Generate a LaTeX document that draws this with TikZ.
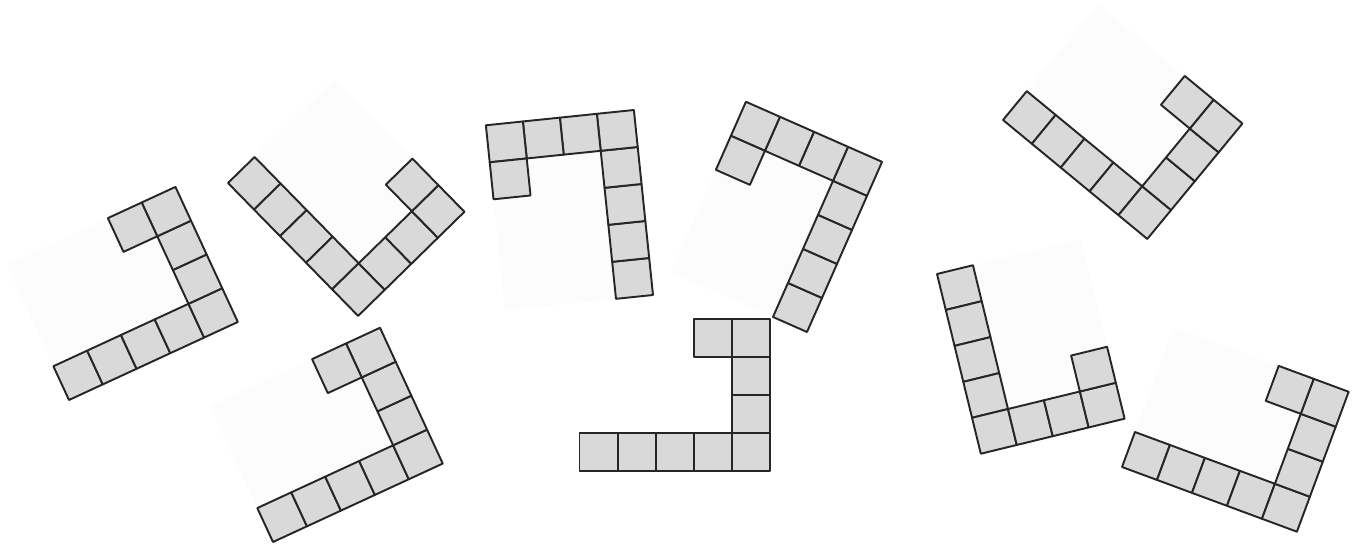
\documentclass[tikz,border=0pt]{standalone}
\usepackage{tikz}

\begin{document}
\begin{tikzpicture}[
  x=0.02cm, y=0.02cm,
  cell/.style={draw=black!85, fill=black!15, line width=1.1pt, line join=round},
  backdrop/.style={fill=black!1},
  ltile/.pic={
    % faint square behind the piece
    \fill[backdrop] (0,0) rectangle (5,4);
    % nine unit cells: row of five, column of three, one hook cell
    \foreach \cx/\cy in {0/0,1/0,2/0,3/0,4/0,4/1,4/2,4/3,3/3}
      \draw[cell] (\cx,\cy) rectangle ++(1,1);
  },
]
\useasboundingbox (0,0) rectangle (1359,545);

% Top row of pieces
\pic[rotate=24.8, scale=37.2] at (69,145) {ltile};
\pic[rotate=-45.6, scale=37.2] at (228,362) {ltile};
\pic[rotate=95.9, scale=37.2] at (653,250) {ltile};
\pic[rotate=66.2, scale=37.2] at (807,213) {ltile};
\pic[rotate=-39.5, scale=37.4] at (1003,425) {ltile};

% Bottom row of pieces
\pic[rotate=24.8, scale=37.4] at (273,3) {ltile};
\pic[backdrop/.style={fill=none}, scale=38.1] at (579.5,74) {ltile};
\pic[rotate=-76.3, scale=37] at (937,271) {ltile};
\pic[rotate=-20.3, scale=37.3] at (1122,78) {ltile};

\end{tikzpicture}
\end{document}
